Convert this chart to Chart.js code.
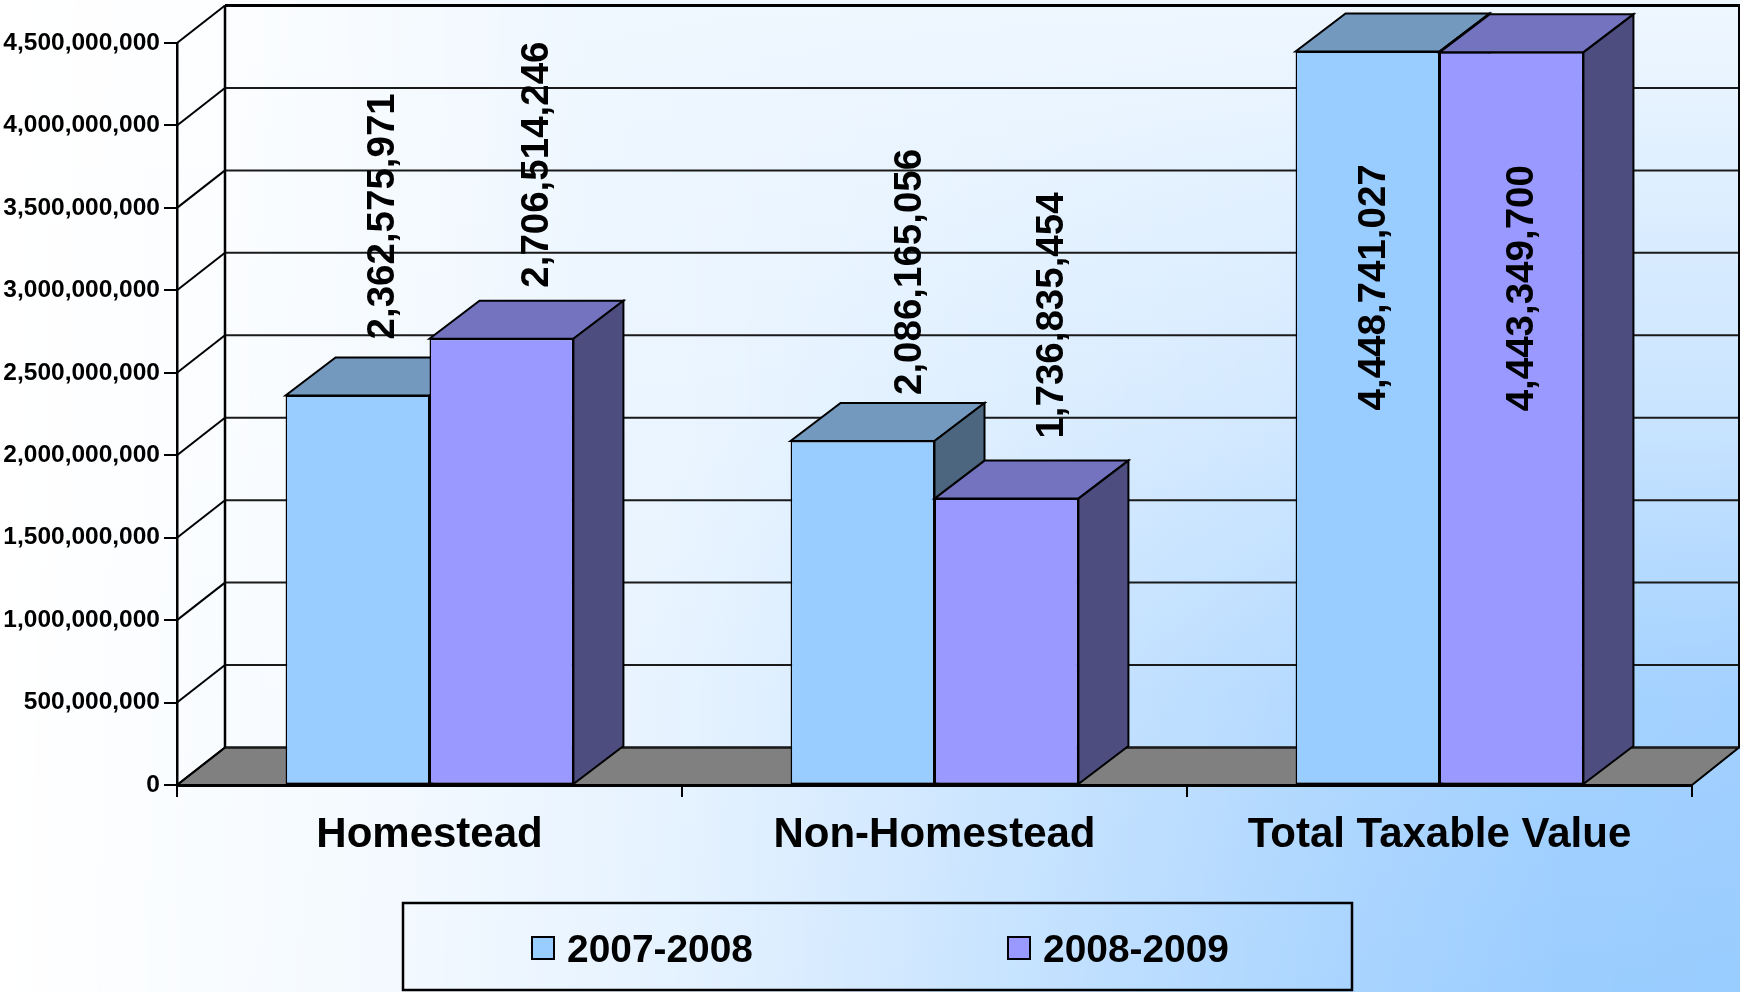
<!DOCTYPE html>
<html>
<head>
<meta charset="utf-8">
<style>
html,body{margin:0;padding:0;background:#fff;overflow:hidden}
#wrap{width:1740px;height:992px;position:relative}
</style>
<script src="https://cdn.jsdelivr.net/npm/chart.js@4/dist/chart.umd.min.js"></script>
</head>
<body>
<div id="wrap"><canvas id="c" width="1740" height="992"></canvas></div>
<script>
const categories = ["Homestead", "Non-Homestead", "Total Taxable Value"];
const series2007 = [2362575971, 2086165056, 4448741027];
const series2008 = [2706514246, 1736835454, 4443349700];
const seriesNames = ["2007-2008", "2008-2009"];

const FONT = '"Liberation Sans", Arial, sans-serif';
const frontColors = ["#99CCFF", "#9999FF"];
const topColors = ["#7399BF", "#7373BF"];
const sideColors = ["#4D6680", "#4D4D80"];
// label nudges per category and series: [dx from bar centre, gap above bar top]
const labelNudge = [
  [[26, 56], [36, 51]],
  [[48, 46], [46, 60]],
  [[7, -359], [11, -359]]
];
const WALL_DX = 48, WALL_DY = 37.5, BAR_DX = 50, BAR_DY = 38;

// background shade: amount of blue along top row, bottom row and down the height
const topRow = [[0, 0], [0.13, 0.03], [0.34, 0.16], [1, 0.16]];
const bottomRow = [[0, 0], [0.23, 0.12], [0.4, 0.27], [0.65, 0.66], [0.78, 0.85], [0.9, 0.98], [1, 1]];
const downRamp = [[0, 0], [0.4, 0.42], [0.7, 0.88], [1, 1]];

function interp(tbl, t) {
  for (let i = 1; i < tbl.length; i++) {
    if (t <= tbl[i][0]) {
      const a = tbl[i - 1], b = tbl[i];
      return a[1] + (b[1] - a[1]) * (t - a[0]) / (b[0] - a[0]);
    }
  }
  return tbl[tbl.length - 1][1];
}
function shade(p) {
  const r = Math.round(255 - 102 * p), g = Math.round(255 - 51 * p);
  return "rgb(" + r + "," + g + ",255)";
}
function paintBackground(ctx, w, h) {
  const step = 2;
  for (let x = 0; x < w; x += step) {
    const u = (x + step / 2) / w;
    const t = interp(topRow, u), b = interp(bottomRow, u);
    const g = ctx.createLinearGradient(0, 0, 0, h);
    downRamp.forEach(s => g.addColorStop(s[0], shade(t + (b - t) * s[1])));
    ctx.fillStyle = g;
    ctx.fillRect(x, 0, step, h);
  }
}

function poly(ctx, pts, fill, stroke, lw) {
  ctx.beginPath();
  pts.forEach((p, i) => i ? ctx.lineTo(p[0], p[1]) : ctx.moveTo(p[0], p[1]));
  ctx.closePath();
  if (fill) { ctx.fillStyle = fill; ctx.fill(); }
  if (stroke) { ctx.strokeStyle = stroke; ctx.lineWidth = lw; ctx.lineJoin = "miter"; ctx.stroke(); }
}

function line(ctx, x1, y1, x2, y2, lw, col) {
  ctx.beginPath(); ctx.moveTo(x1, y1); ctx.lineTo(x2, y2);
  ctx.strokeStyle = col || "#000"; ctx.lineWidth = lw; ctx.stroke();
}

const wallsPlugin = {
  id: "walls",
  beforeDraw(chart) {
    const { ctx, chartArea: a, scales } = chart;
    paintBackground(ctx, chart.width, chart.height);
    const y0 = scales.y.getPixelForValue(0);
    const yTop = scales.y.getPixelForValue(scales.y.max);
    // floor
    poly(ctx, [[a.left, y0], [a.right, y0], [a.right + WALL_DX - 1, y0 - WALL_DY], [a.left + WALL_DX, y0 - WALL_DY]], "#808080", "#000", 2);
    // gridlines on the back and side walls
    scales.y.ticks.forEach(t => {
      const py = scales.y.getPixelForValue(t.value);
      line(ctx, a.left, py, a.left + WALL_DX, py - WALL_DY, 2, "#000");
      if (t.value === scales.y.max) line(ctx, a.left + WALL_DX, py - WALL_DY, a.right + WALL_DX, py - WALL_DY, 3, "#000");
      else line(ctx, a.left + WALL_DX, py - WALL_DY, a.right + WALL_DX, py - WALL_DY, 2, "#1a1a1a");
    });
    line(ctx, a.left + WALL_DX, yTop - WALL_DY, a.left + WALL_DX, y0 - WALL_DY, 2.5, "#000");
    line(ctx, a.right + WALL_DX - 1, yTop - WALL_DY, a.right + WALL_DX - 1, y0 - WALL_DY, 2, "#000");
  },
  beforeDatasetsDraw(chart) {
    // paint each series back-to-front: its depth faces, then the library's own front bars
    const { ctx } = chart;
    [0, 1].forEach(i => {
      const meta = chart.getDatasetMeta(i);
      meta.data.forEach(bar => {
        const half = bar.width / 2, l = bar.x - half, r = bar.x + half, t = bar.y, b = bar.base;
        poly(ctx, [[l, t], [r, t], [r + BAR_DX, t - BAR_DY], [l + BAR_DX, t - BAR_DY]], topColors[i], "#000", 2);
        poly(ctx, [[r, t], [r + BAR_DX, t - BAR_DY], [r + BAR_DX, b - BAR_DY], [r, b]], sideColors[i], "#000", 2);
      });
      meta.controller.draw();
    });
    return false;
  },
  afterDraw(chart) {
    const { ctx } = chart;
    // value labels
    [0, 1].forEach(i => {
      chart.getDatasetMeta(i).data.forEach((bar, j) => {
        const v = chart.data.datasets[i].data[j];
        const n = labelNudge[j][i];
        ctx.save();
        ctx.translate(bar.x + n[0], bar.y - n[1]);
        ctx.rotate(-Math.PI / 2);
        ctx.font = "bold 38.5px " + FONT;
        ctx.fillStyle = "#000";
        ctx.textAlign = "left";
        ctx.textBaseline = "middle";
        ctx.fillText(v.toLocaleString("en-US"), 0, 0);
        ctx.restore();
      });
    });
    // legend box
    const bx = 403, by = 903, bw = 949, bh = 87;
    ctx.strokeStyle = "#000"; ctx.lineWidth = 2.5;
    ctx.strokeRect(bx, by, bw, bh);
    const swX = [532, 1008], txtX = [567, 1043];
    chart.data.datasets.forEach((d, i) => {
      ctx.fillStyle = frontColors[i];
      ctx.fillRect(swX[i], 937, 22, 22);
      ctx.strokeStyle = "#000"; ctx.lineWidth = 2;
      ctx.strokeRect(swX[i], 937, 22, 22);
      ctx.font = "bold 38.9px " + FONT;
      ctx.fillStyle = "#000";
      ctx.textAlign = "left";
      ctx.textBaseline = "middle";
      ctx.fillText(d.label, txtX[i], 951);
    });
  }
};

new Chart(document.getElementById("c"), {
  type: "bar",
  data: {
    labels: categories,
    datasets: [
      { label: seriesNames[0], data: series2007, backgroundColor: frontColors[0], borderColor: "#000", borderWidth: 1.5, borderSkipped: false },
      { label: seriesNames[1], data: series2008, backgroundColor: frontColors[1], borderColor: "#000", borderWidth: 1.5, borderSkipped: false }
    ]
  },
  options: {
    responsive: false,
    animation: false,
    devicePixelRatio: 1,
    layout: { padding: { top: 43, right: 48, left: 0, bottom: 0 } },
    categoryPercentage: 0.57,
    barPercentage: 1,
    plugins: { legend: { display: false }, tooltip: { enabled: false }, title: { display: false } },
    scales: {
      x: {
        afterFit(s) { s.height = 207; },
        grid: { display: true, drawOnChartArea: false, drawTicks: true, tickLength: 12, color: "#000", lineWidth: 2 },
        border: { display: true, color: "#000", width: 3 },
        ticks: { color: "#000", font: { family: FONT, weight: "bold", size: 42 }, padding: 13, maxRotation: 0, autoSkip: false }
      },
      y: {
        min: 0, max: 4500000000,
        afterFit(s) { s.width = 177; },
        grid: { display: true, drawOnChartArea: false, drawTicks: true, tickLength: 13, color: "#000", lineWidth: 2 },
        border: { display: true, color: "#000", width: 2.5 },
        ticks: {
          stepSize: 500000000, color: "#000", padding: 4,
          font: { family: FONT, weight: "bold", size: 24.5 },
          callback: v => Number(v).toLocaleString("en-US")
        }
      }
    }
  },
  plugins: [wallsPlugin]
});
</script>
</body>
</html>
